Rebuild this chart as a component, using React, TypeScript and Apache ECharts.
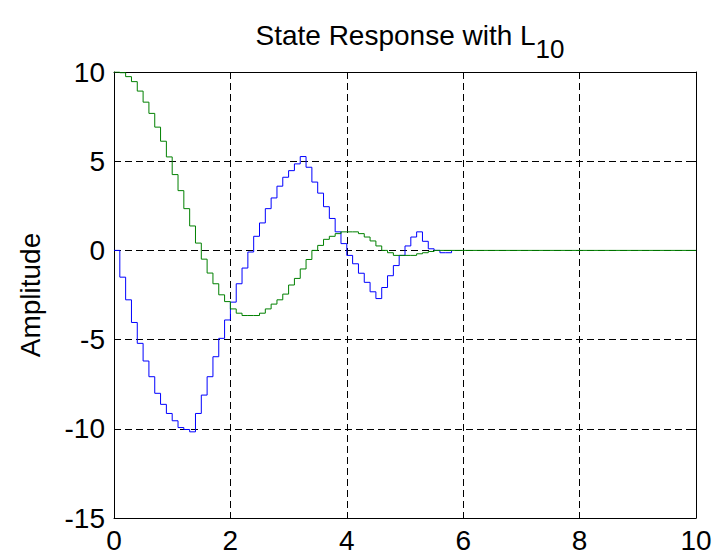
import React, { useEffect, useRef } from "react";
import * as echarts from "echarts";

// time step of the stair plot (seconds)
const STEP = 0.1;

// state x1 (blue), read per 0.1 s step
const blueValues = [
  0, -1.5, -2.77, -4.04, -5.21, -6.2, -7.08, -8.01, -8.63, -9.14,
  -9.55, -9.93, -10.04, -10.17, -9.14, -8.11, -7.08, -5.96, -4.93, -3.9,
  -2.9, -1.87, -0.99, -0.09, 0.79, 1.54, 2.34, 2.94, 3.6, 4.1,
  4.47, 4.85, 5.26, 4.66, 3.83, 3.21, 2.45, 1.79, 1.04, 0.38,
  -0.28, -0.75, -1.28, -1.79, -2.32, -2.7, -2.08, -1.42, -0.85, -0.28,
  0.25, 0.75, 1.04, 0.51, 0.09, 0, -0.13, -0.13, 0,
];

// state x2 (green), read per 0.1 s step
const greenValues = [
  10, 9.96, 9.74, 9.46, 8.93, 8.31, 7.68, 6.91, 6.12, 5.24,
  4.25, 3.35, 2.34, 1.37, 0.41, -0.49, -1.27, -1.87, -2.49, -2.87,
  -3.28, -3.52, -3.65, -3.65, -3.65, -3.52, -3.28, -3.01, -2.77, -2.45,
  -1.94, -1.57, -1.04, -0.51, 0, 0.28, 0.62, 0.79, 0.94, 1.04,
  1.04, 1.04, 0.94, 0.75, 0.53, 0.25, 0, -0.13, -0.28, -0.28,
  -0.28, -0.28, -0.19, -0.13, -0.06, 0,
];
const greenEnd = { t: 10, v: 0 };

const xTicks = [0, 2, 4, 6, 8, 10];
const yTicks = [-15, -10, -5, 0, 5, 10];

const TITLE_MAIN = "State Response with L";
const TITLE_SUB = "10";
const Y_NAME = "Amplitude";

const FONT = "'Liberation Sans', Arial, Helvetica, sans-serif";

export default function App() {
  const ref = useRef<HTMLDivElement>(null);

  useEffect(() => {
    if (!ref.current) return;
    document.body.style.margin = "0";
    const chart = echarts.init(ref.current, undefined, { renderer: "svg" });

    const blueData = blueValues.map((v, i) => [+(i * STEP).toFixed(2), v]);
    const greenData = greenValues.map((v, i) => [+(i * STEP).toFixed(2), v]);
    greenData.push([greenEnd.t, greenEnd.v]);

    const gridStyle = {
      show: true,
      lineStyle: { color: "#000", width: 1, type: [7, 4] as any },
    };
    const boxLine = { show: true, onZero: false, lineStyle: { color: "#000", width: 1 } };
    const tick = { show: true, inside: true, length: 5, lineStyle: { color: "#000" } };

    chart.setOption({
      animation: false,
      backgroundColor: "#fff",
      title: {
        text: `{a|${TITLE_MAIN}}{b|${TITLE_SUB}}`,
        left: 405,
        top: 16,
        textAlign: "center",
        textStyle: {
          fontWeight: "normal",
          rich: {
            a: { fontSize: 28, fontWeight: "normal", fontFamily: FONT, color: "#000", verticalAlign: "top", lineHeight: 32 },
            b: { fontSize: 26, fontWeight: "normal", fontFamily: FONT, color: "#000", verticalAlign: "top", lineHeight: 32, padding: [15, 0, 0, 0] },
          },
        },
      },
      grid: { left: 114, top: 72, width: 582, height: 446, show: false },
      xAxis: [
        {
          type: "value",
          min: xTicks[0],
          max: xTicks[xTicks.length - 1],
          interval: 2,
          position: "bottom",
          axisLine: boxLine,
          axisTick: tick,
          axisLabel: { show: true, color: "#000", fontSize: 28, fontFamily: FONT, margin: 8 },
          splitLine: gridStyle,
        },
        {
          type: "value",
          min: xTicks[0],
          max: xTicks[xTicks.length - 1],
          interval: 2,
          position: "top",
          axisLine: boxLine,
          axisTick: tick,
          axisLabel: { show: false },
          splitLine: { show: false },
        },
      ],
      yAxis: [
        {
          type: "value",
          min: yTicks[0],
          max: yTicks[yTicks.length - 1],
          interval: 5,
          position: "left",
          name: Y_NAME,
          nameLocation: "middle",
          nameGap: 70,
          nameTextStyle: { color: "#000", fontSize: 28, fontFamily: FONT },
          axisLine: boxLine,
          axisTick: tick,
          axisLabel: { show: true, color: "#000", fontSize: 28, fontFamily: FONT, margin: 9 },
          splitLine: gridStyle,
        },
        {
          type: "value",
          min: yTicks[0],
          max: yTicks[yTicks.length - 1],
          interval: 5,
          position: "right",
          axisLine: boxLine,
          axisTick: tick,
          axisLabel: { show: false },
          splitLine: { show: false },
        },
      ],
      series: [
        {
          type: "line",
          name: "x1",
          step: "end",
          data: blueData,
          showSymbol: false,
          symbol: "none",
          lineStyle: { color: "#0000ff", width: 1 },
          z: 3,
        },
        {
          type: "line",
          name: "x2",
          step: "end",
          data: greenData,
          showSymbol: false,
          symbol: "none",
          lineStyle: { color: "#008000", width: 1 },
          z: 4,
        },
      ],
    });

    return () => chart.dispose();
  }, []);

  return (
    <div
      ref={ref}
      style={{ position: "fixed", left: 0, top: 0, width: 719, height: 559, background: "#fff" }}
    />
  );
}
